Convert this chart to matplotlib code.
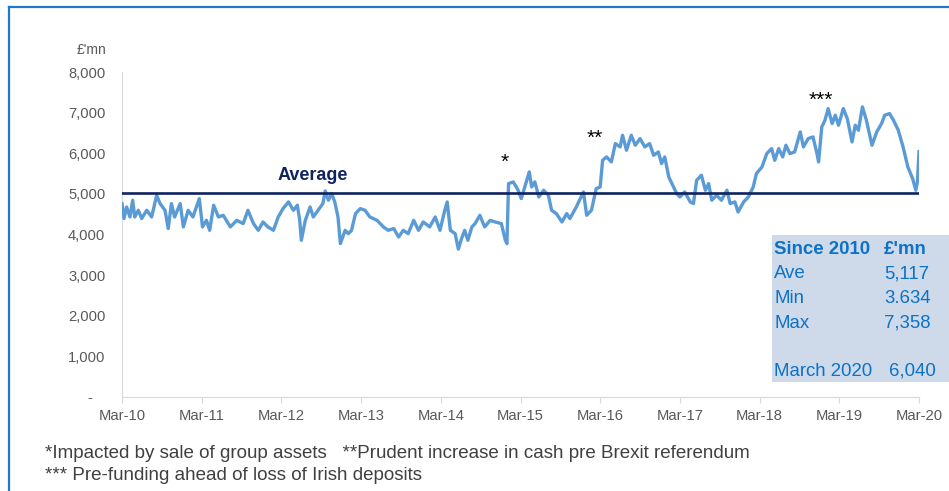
import matplotlib
matplotlib.use("Agg")
import matplotlib.pyplot as plt
from matplotlib.ticker import FuncFormatter
from matplotlib.patches import Rectangle
from matplotlib.lines import Line2D

plt.rcParams['font.family'] = ['Liberation Sans', 'DejaVu Sans']

# ---- data (years since Mar-2010, £'mn) ----
years = [0.00, 0.025, 0.058, 0.10, 0.134, 0.16, 0.205, 0.247, 0.31, 0.372, 0.435, 0.477,
         0.54, 0.58, 0.62, 0.66, 0.73, 0.77, 0.83, 0.89, 0.97, 1.01, 1.06, 1.10, 1.15,
         1.21, 1.27, 1.36, 1.44, 1.52, 1.58, 1.65, 1.71, 1.77, 1.83, 1.90, 1.96, 2.02,
         2.09, 2.15, 2.20, 2.23, 2.25, 2.30, 2.36, 2.40, 2.46, 2.52, 2.55, 2.59, 2.63,
         2.67, 2.71, 2.74, 2.80, 2.84, 2.88, 2.93, 2.99, 3.05, 3.11, 3.20, 3.28, 3.34,
         3.41, 3.47, 3.53, 3.59, 3.66, 3.72, 3.78, 3.86, 3.93, 3.99, 4.05, 4.08, 4.12,
         4.18, 4.22, 4.26, 4.30, 4.34, 4.39, 4.43, 4.49, 4.55, 4.62, 4.68, 4.76, 4.81,
         4.83, 4.85, 4.91, 4.97, 5.01, 5.06, 5.11, 5.14, 5.18, 5.23, 5.29, 5.35, 5.39,
         5.45, 5.52, 5.58, 5.62, 5.70, 5.79, 5.83, 5.89, 5.95, 6.00, 6.03, 6.08, 6.14,
         6.19, 6.25, 6.28, 6.33, 6.39, 6.44, 6.50, 6.56, 6.62, 6.67, 6.73, 6.77, 6.81,
         6.86, 6.90, 6.96, 7.00, 7.06, 7.13, 7.17, 7.21, 7.27, 7.32, 7.36, 7.40, 7.46,
         7.52, 7.59, 7.63, 7.69, 7.73, 7.80, 7.86, 7.92, 7.96, 8.03, 8.09, 8.15, 8.19,
         8.24, 8.29, 8.33, 8.38, 8.44, 8.51, 8.55, 8.61, 8.67, 8.72, 8.74, 8.78, 8.82,
         8.86, 8.91, 8.95, 8.99, 9.05, 9.10, 9.16, 9.20, 9.24, 9.29, 9.34, 9.41, 9.47,
         9.53, 9.57, 9.63, 9.68, 9.74, 9.80, 9.86, 9.92, 9.96, 9.98, 10.00]
liquidity = [4761, 4392, 4678, 4431, 4843, 4431, 4596, 4392, 4596, 4431, 4966, 4761,
             4596, 4146, 4761, 4431, 4761, 4187, 4596, 4431, 4884, 4187, 4349, 4103, 4720,
             4431, 4473, 4187, 4349, 4268, 4596, 4268, 4103, 4309, 4187, 4103, 4431, 4637,
             4802, 4596, 4720, 4349, 3857, 4349, 4678, 4431, 4596, 4761, 5072, 4843, 5007,
             4802, 4431, 3775, 4103, 4021, 4103, 4514, 4637, 4596, 4431, 4349, 4187, 4103,
             4146, 3939, 4103, 4021, 4349, 4103, 4309, 4187, 4431, 4103, 4596, 4802, 4103,
             4021, 3640, 3900, 4103, 3857, 4187, 4268, 4473, 4187, 4349, 4309, 4268, 3857,
             3775, 5253, 5294, 5089, 4884, 5212, 5540, 5171, 5294, 4925, 5089, 4966, 4596,
             4514, 4309, 4514, 4392, 4678, 5048, 4473, 4596, 5130, 5171, 5827, 5909, 5786,
             6238, 6156, 6443, 6074, 6443, 6197, 6361, 6156, 6238, 5950, 6032, 5745, 5909,
             5417, 5253, 5007, 4925, 5048, 4802, 4761, 5335, 5458, 5089, 5253, 4843, 4966,
             4843, 5089, 4761, 4802, 4555, 4802, 4925, 5171, 5499, 5663, 5991, 6115, 5827,
             6115, 5909, 6197, 5991, 6032, 6525, 6156, 6361, 6402, 5991, 5786, 6648, 6812,
             7099, 6730, 6936, 6689, 7099, 6853, 6279, 6689, 6566, 7140, 6812, 6197, 6525,
             6730, 6936, 6977, 6812, 6566, 6156, 5663, 5376, 5089, 5294, 6040]
average_level = 5020
tick_labels = ['Mar-10', 'Mar-11', 'Mar-12', 'Mar-13', 'Mar-14', 'Mar-15',
               'Mar-16', 'Mar-17', 'Mar-18', 'Mar-19', 'Mar-20']
stats_labels = ['Ave', 'Min', 'Max']
stats_values = ['5,117', '3.634', '7,358']
current_label = 'March 2020'
current_value = '6,040'

W, H = 949, 491
fig = plt.figure(figsize=(W / 100, H / 100), dpi=100)

def fx(x):
    return x / W

def fy(y):
    return 1 - y / H

# outer blue frame (top and left visible)
fig.add_artist(Line2D([fx(9), fx(949)], [fy(7), fy(7)], color='#1F78C8', lw=1.6))
fig.add_artist(Line2D([fx(9), fx(9)], [fy(7), fy(491)], color='#1F78C8', lw=1.6))

ax = fig.add_axes([fx(122), fy(397), fx(919) - fx(122), fy(72) - fy(397)])
ax.plot(years, liquidity, color='#5B9BD5', lw=2.4, solid_joinstyle='round', zorder=3)
ax.plot([0, 10], [average_level, average_level], color='#0E2461', lw=1.9, zorder=4)

ax.set_xlim(0, 10)
ax.set_ylim(0, 8000)
ax.set_yticks(range(0, 8001, 1000))
ax.yaxis.set_major_formatter(FuncFormatter(lambda v, p: '-   ' if v == 0 else f'{int(v):,}'))
ax.set_xticks(range(len(tick_labels)))
ax.set_xticklabels(tick_labels)

for s in ['top', 'right']:
    ax.spines[s].set_visible(False)
ax.spines['left'].set_color('#D9D9D9')
ax.spines['bottom'].set_color('#D9D9D9')
ax.tick_params(axis='y', length=0, pad=12, labelsize=10.6, labelcolor='#595959')
ax.tick_params(axis='x', length=4, direction='out', color='#D9D9D9', pad=5,
               labelsize=10.6, labelcolor='#595959')

# unit label
fig.text(fx(106), fy(50), "£'mn", ha='right', va='center', fontsize=10, color='#595959')

# Average label
fig.text(fx(313), fy(175), 'Average', ha='center', va='center', fontsize=13,
         fontweight='bold', color='#0E2461')

# asterisks
fig.text(fx(505), fy(162), '*', ha='center', va='center', fontsize=15, color='black')
fig.text(fx(595), fy(138), '**', ha='center', va='center', fontsize=15, color='black')
fig.text(fx(821), fy(100), '***', ha='center', va='center', fontsize=15, color='black')

# stats box
fig.add_artist(Rectangle((fx(772), fy(382)), fx(949) - fx(772), fy(235) - fy(382),
                         facecolor='#CEDAEA', edgecolor='none', zorder=5))
blue = '#0B72C6'
fs = 13.4
fig.text(fx(774), fy(250), 'Since 2010', ha='left', va='center', fontsize=fs,
         fontweight='bold', color=blue, zorder=6)
fig.text(fx(884), fy(250), "£'mn", ha='left', va='center', fontsize=fs,
         fontweight='bold', color=blue, zorder=6)
for i, (lab, val) in enumerate(zip(stats_labels, stats_values)):
    yy = 274 + i * 24.5
    fig.text(fx(774), fy(yy), lab, ha='left', va='center', fontsize=fs, color=blue, zorder=6)
    fig.text(fx(884), fy(yy), val, ha='left', va='center', fontsize=fs, color=blue, zorder=6)
fig.text(fx(774), fy(371), current_label, ha='left', va='center', fontsize=fs, color=blue, zorder=6)
fig.text(fx(889), fy(371), current_value, ha='left', va='center', fontsize=fs, color=blue, zorder=6)

# footnotes
fig.text(fx(45), fy(453), '*Impacted by sale of group assets   **Prudent increase in cash pre Brexit referendum',
         ha='left', va='center', fontsize=13.5, color='#404040')
fig.text(fx(45), fy(476), '*** Pre-funding ahead of loss of Irish deposits',
         ha='left', va='center', fontsize=13.5, color='#404040')

fig.savefig('out.png', dpi=100)
